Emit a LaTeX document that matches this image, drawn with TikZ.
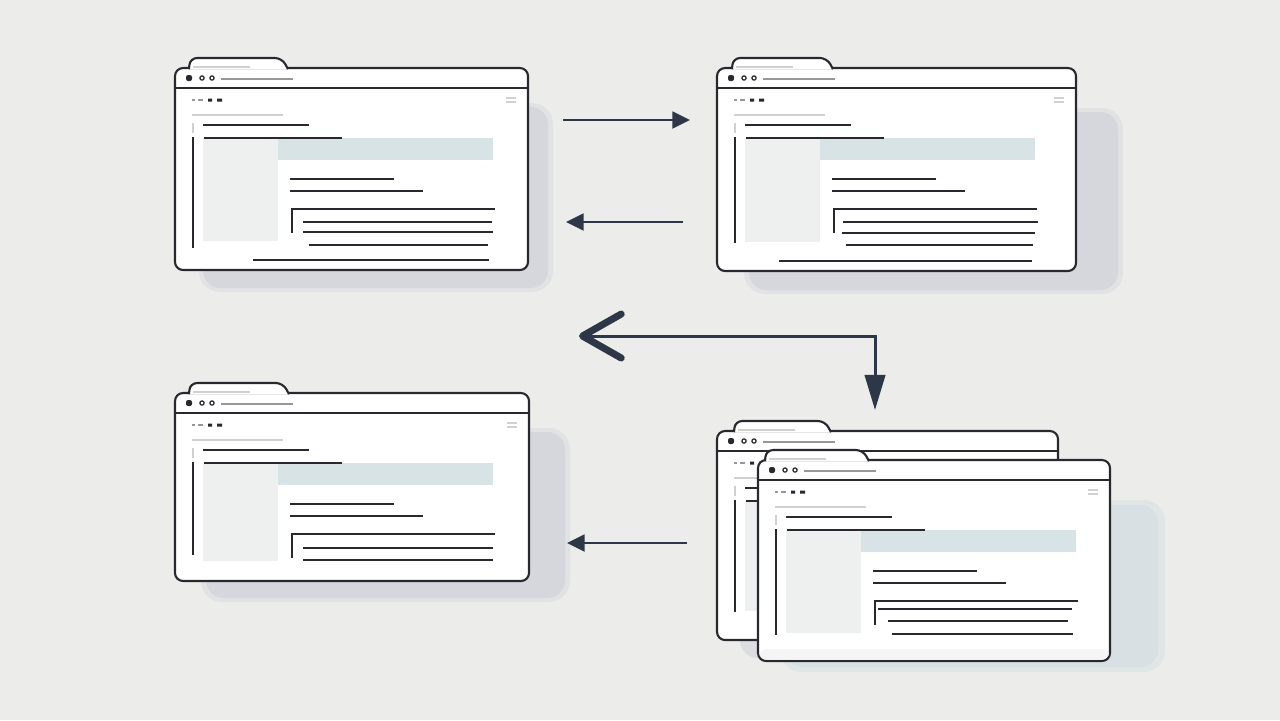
\documentclass[tikz,border=0pt]{standalone}
\usepackage{tikz}
\usepackage{xcolor}
\usetikzlibrary{arrows.meta,positioning,calc}
\definecolor{bgc}{RGB}{236,236,235}
\definecolor{framec}{RGB}{40,40,46}
\definecolor{arrowc}{RGB}{45,55,72}
\definecolor{bandc}{RGB}{216,227,229}
\definecolor{imgc}{RGB}{238,239,239}
\definecolor{shadowc}{RGB}{206,208,215}
\definecolor{shadowb}{RGB}{214,223,227}
\definecolor{faintc}{RGB}{208,208,208}
\definecolor{addrc}{RGB}{150,150,155}

\tikzset{
  winframe/.style={draw=framec, line width=0.6pt, fill=white, rounded corners=2.3pt},
  ln/.style={draw=framec, line width=0.55pt},
  faint/.style={draw=faintc, line width=0.45pt},
  addr/.style={draw=addrc, line width=0.4pt},
  flow/.style={draw=arrowc, line width=0.65pt, -{Triangle[length=5pt,width=4.8pt]}},
  bigflow/.style={draw=arrowc, line width=0.85pt, line join=miter,
    {Straight Barb[length=11pt,width=12.5pt,line width=2pt,round]}-{Triangle[length=10pt,width=5.8pt]}},
}

% window frame: x, y, width, height, tab left, tab right
\newcommand{\browserframe}[6]{%
  \begin{scope}[shift={(#1,#2)}]
    \path[winframe] (0,0) rectangle (#3,#4);
    \path[winframe, rounded corners=2pt] (#5-1,1.2) -- (#5,-10) -- (#6,-10) -- (#6+6,1.2);
    \draw[faint] (#5+3,-1) -- (#5+60,-1);
    \draw[ln] (0,20) -- (#3,20);
    \fill[framec, rounded corners=0.6pt] (11,7) rectangle (17,13);
    \draw[framec, line width=0.35pt] (27,10) circle[radius=0.6pt] (37,10) circle[radius=0.6pt];
    \draw[addr] (46,11) -- (118,11);
    % toolbar
    \draw[addr] (17,32) -- (20,32) (23,32) -- (28,32);
    \fill[framec] (33,30.5) rectangle (37,33.5) (42,30.5) rectangle (47,33.5);
    \draw[faint] (#3-22,30) -- (#3-12,30) (#3-22,34) -- (#3-12,34);
  \end{scope}}

% upper page content: end of side line, bottom of image
\newcommand{\pagetop}[2]{%
  \draw[faint] (17,47) -- (108,47);
  \draw[faint] (18,55) -- (18,65);
  \fill[bandc] (28,70) rectangle (318,92);
  \fill[imgc] (28,70) rectangle (103,#2);
  \draw[ln] (18,69) -- (18,#1);
  \draw[ln] (28,57) -- (134,57);
  \draw[ln] (29,70) -- (167,70);
  \draw[ln] (115,111) -- (219,111);
  \draw[ln] (115,123) -- (248,123);
  \draw[ln] (117,165) -- (117,141) -- (320,141);}

\begin{document}
\begin{tikzpicture}[x=0.01cm, y=-0.01cm]
  \fill[bgc] (0,0) rectangle (1280,720);
  \useasboundingbox (0,0) rectangle (1280,720);

  % shadows
  \fill[shadowc, opacity=0.35, rounded corners=6pt] (199,103) rectangle (553,292);
  \fill[shadowc, opacity=0.6, rounded corners=5pt] (203,107) rectangle (548,288);
  \fill[shadowc, opacity=0.35, rounded corners=6pt] (744,108) rectangle (1123,294);
  \fill[shadowc, opacity=0.6, rounded corners=5pt] (749,112) rectangle (1118,290);
  \fill[shadowc, opacity=0.35, rounded corners=6pt] (201,428) rectangle (570,602);
  \fill[shadowc, opacity=0.6, rounded corners=5pt] (206,432) rectangle (565,598);
  \fill[shadowc, opacity=0.5, rounded corners=5pt] (740,470) rectangle (1075,658);
  \fill[shadowb, opacity=0.5, rounded corners=6pt] (780,500) rectangle (1165,672);
  \fill[shadowb, opacity=0.8, rounded corners=5pt] (785,505) rectangle (1158,667);

  % back window of the stack
  \browserframe{717}{431}{341}{209}{18}{108}
  \begin{scope}[shift={(717,431)}]
    \pagetop{181}{180}
  \end{scope}

  % front window of the stack
  \browserframe{758}{460}{352}{201}{8}{105}
  \begin{scope}[shift={(758,460)}]
    \fill[gray!8, rounded corners=2pt] (1.5,189) rectangle (350.5,199.5);
    \pagetop{175}{173}
    \draw[ln] (120,149) -- (314,149);
    \draw[ln] (130,161) -- (310,161);
    \draw[ln] (134,174) -- (315,174);
  \end{scope}

  % top left window
  \browserframe{175}{68}{353}{202}{15}{107}
  \begin{scope}[shift={(175,68)}]
    \pagetop{180}{173}
    \draw[ln] (128,154) -- (317,154);
    \draw[ln] (128,164) -- (318,164);
    \draw[ln] (134,177) -- (313,177);
    \draw[ln] (78,192) -- (314,192);
  \end{scope}

  % top right window
  \browserframe{717}{68}{359}{203}{16}{110}
  \begin{scope}[shift={(717,68)}]
    \pagetop{175}{174}
    \draw[ln] (126,154) -- (321,154);
    \draw[ln] (125,165) -- (318,165);
    \draw[ln] (129,177) -- (316,177);
    \draw[ln] (62,193) -- (315,193);
  \end{scope}

  % bottom left window
  \browserframe{175}{393}{354}{188}{15}{108}
  \begin{scope}[shift={(175,393)}]
    \pagetop{162}{168}
    \draw[ln] (128,155) -- (318,155);
    \draw[ln] (128,167) -- (318,167);
  \end{scope}

  % arrows
  \coordinate (fwdA) at (563,120);
  \coordinate (fwdB) at (690,120);
  \coordinate (backA) at (683,222);
  \coordinate (backB) at (566,222);
  \coordinate (loopL) at (579,336);
  \coordinate (loopC) at (875,336);
  \coordinate (loopD) at (875,410);
  \coordinate (lowA) at (687,543);
  \coordinate (lowB) at (567,543);

  \draw[flow] (fwdA) -- (fwdB);
  \draw[flow] (backA) -- (backB);
  \draw[bigflow] (loopL) -- (loopC) -- (loopD);
  \draw[flow] (lowA) -- (lowB);
\end{tikzpicture}
\end{document}
